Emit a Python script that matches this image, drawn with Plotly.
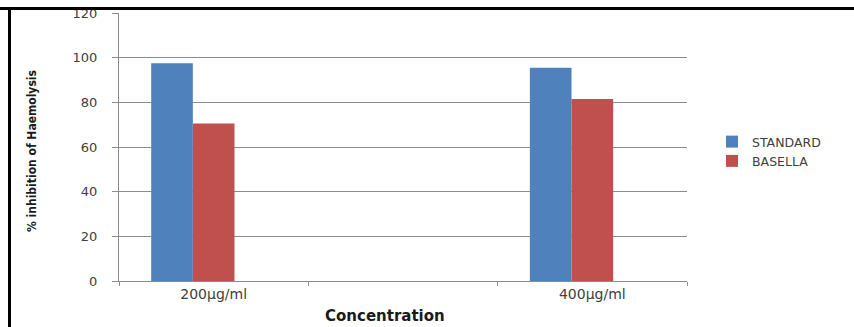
import plotly.graph_objects as go

# Haemolysis inhibition by concentration
categories = ["200µg/ml", "400µg/ml"]
axis_slots = ["200µg/ml", " ", "400µg/ml"]
standard = [97.5, 95.5]
basella = [70.5, 81.5]
y_ticks = [0, 20, 40, 60, 80, 100, 120]

BLUE = "#4F81BD"
RED = "#C0504D"
GRID = "#8C8C8C"
TEXT = "#404040"

W, H = 854, 327
L, R, T, B = 119, 167, 13, 46
pw, ph = W - L - R, H - T - B


def px(x):
    return (x - L) / pw


def py(y):
    return (H - B - y) / ph


fig = go.Figure()
fig.add_trace(go.Bar(
    name="STANDARD", x=categories, y=standard,
    marker=dict(color=BLUE, line=dict(width=0)),
    width=0.22, offset=-0.33,
))
fig.add_trace(go.Bar(
    name="BASELLA", x=categories, y=basella,
    marker=dict(color=RED, line=dict(width=0)),
    width=0.22, offset=-0.11,
))

fig.update_layout(
    width=W, height=H,
    margin=dict(l=L, r=R, t=T, b=B, autoexpand=False),
    paper_bgcolor="white", plot_bgcolor="white",
    barmode="overlay",
    showlegend=True,
    legend=dict(
        x=px(712), y=py(127), xanchor="left", yanchor="top",
        font=dict(family="DejaVu Sans", size=12.5, color=TEXT),
        bgcolor="rgba(0,0,0,0)", borderwidth=0,
        tracegroupgap=0, itemwidth=30,
    ),
    xaxis=dict(
        type="category", categoryorder="array", categoryarray=axis_slots,
        range=[-0.5, 2.5],
        showgrid=False, showline=True, linecolor=GRID, linewidth=1,
        ticks="outside", tickson="boundaries", ticklen=4, tickcolor=GRID,
        tickfont=dict(family="DejaVu Sans", size=14, color=TEXT),
        fixedrange=True,
    ),
    yaxis=dict(
        range=[0, 120], tickvals=y_ticks,
        showgrid=True, gridcolor=GRID, gridwidth=1,
        showline=True, linecolor=GRID, linewidth=1,
        ticks="outside", ticklen=6, tickcolor=GRID,
        ticklabelstandoff=12,
        tickfont=dict(family="DejaVu Sans", size=13, color=TEXT),
        zeroline=False, fixedrange=True,
    ),
    annotations=[
        dict(
            text="<b>% inhibition of Haemolysis</b>", textangle=-90,
            x=px(32), y=py(151), xref="paper", yref="paper",
            showarrow=False, xanchor="center", yanchor="middle",
            font=dict(family="Liberation Sans Narrow, DejaVu Sans Condensed, sans-serif",
                      size=12, color="#1a1a1a"),
        ),
        dict(
            text="<b>Concentration</b>",
            x=px(385), y=py(316), xref="paper", yref="paper",
            showarrow=False, xanchor="center", yanchor="middle",
            font=dict(family="DejaVu Sans", size=15, color="#1a1a1a"),
        ),
    ],
    shapes=[
        # black frame along the top and left edges
        dict(type="line", xref="paper", yref="paper",
             x0=px(0), x1=px(W), y0=py(8.5), y1=py(8.5),
             line=dict(color="black", width=3)),
        dict(type="line", xref="paper", yref="paper",
             x0=px(9.5), x1=px(9.5), y0=py(7), y1=py(H + 2),
             line=dict(color="black", width=3)),
    ],
)

fig.write_html("out.html", config={"displayModeBar": False})
